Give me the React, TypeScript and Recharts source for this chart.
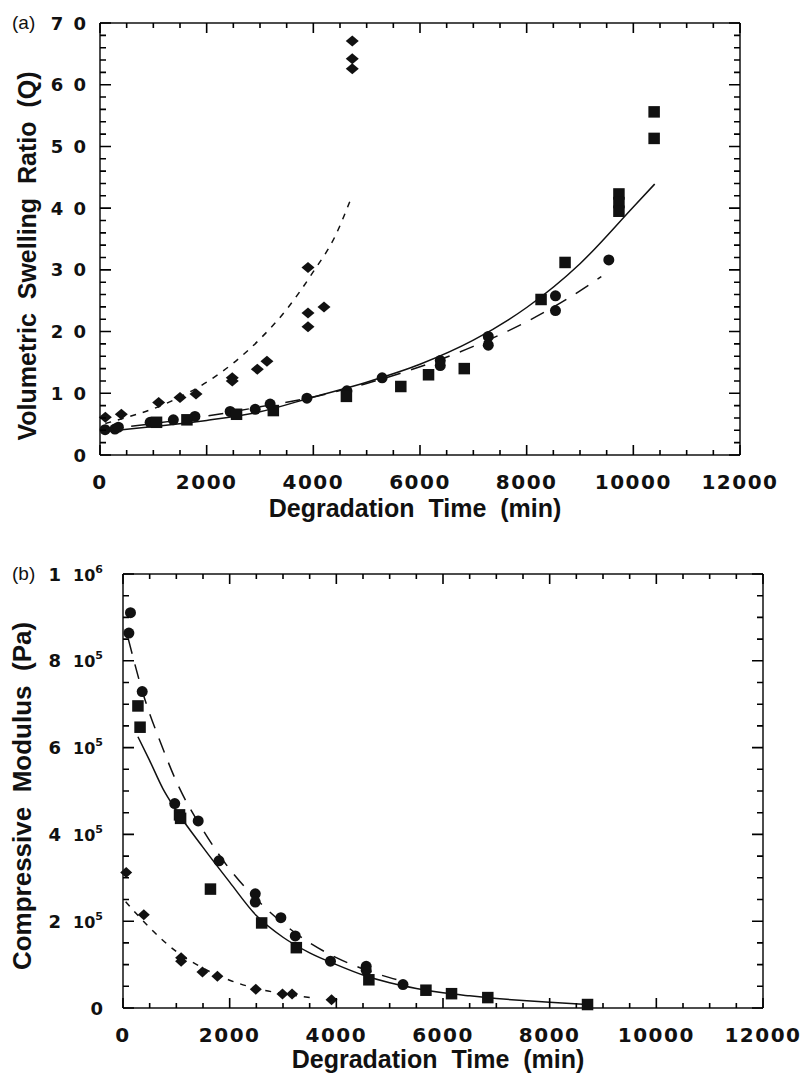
import { ComposedChart, Line, Scatter, XAxis, YAxis } from "recharts";

const INK = "#111";
const NUM_FONT = "'DejaVu Sans', sans-serif";
const TITLE_FONT = "'Liberation Sans', Arial, sans-serif";

// ---- (a) volumetric swelling ratio Q vs degradation time (min) ----
const swellDiamondT = [100, 400, 1100, 1500, 1800, 2480, 2480, 2950, 3130, 3900, 3900, 3900, 4200, 4730, 4730, 4730];
const swellDiamondQ = [6.1, 6.6, 8.5, 9.3, 9.9, 12.5, 12.0, 13.9, 15.2, 30.4, 23.0, 20.8, 24.0, 67.1, 64.2, 62.6];

const swellCircleT = [95, 280, 345, 940, 1375, 1780, 2440, 2910, 3190, 3880, 4630, 5290, 6380, 6380, 7280, 7280, 8540, 8540, 9540];
const swellCircleQ = [4.1, 4.2, 4.5, 5.3, 5.7, 6.25, 7.05, 7.4, 8.25, 9.2, 10.4, 12.5, 15.3, 14.5, 19.2, 17.8, 25.8, 23.4, 31.6];

const swellSquareT = [1060, 1630, 2560, 3250, 4620, 5640, 6160, 6830, 8270, 8720, 9730, 9730, 9730, 10390, 10390];
const swellSquareQ = [5.3, 5.7, 6.6, 7.2, 9.5, 11.1, 13.0, 14.0, 25.2, 31.2, 42.3, 40.9, 39.5, 55.6, 51.3];

// fitted curves
const swellDiamondFitT = [100, 500, 1000, 1500, 2000, 2500, 3000, 3500, 4000, 4400, 4730];
const swellDiamondFitQ = [5.1, 6.1, 7.5, 9.4, 11.8, 14.9, 18.8, 23.6, 29.7, 35.3, 42.1];
const swellCircleFitT = [100, 1000, 2000, 3000, 4000, 5000, 6000, 7000, 8000, 9000, 9400];
const swellCircleFitQ = [4.2, 5.1, 6.3, 7.8, 9.4, 11.6, 14.3, 17.6, 21.6, 26.6, 28.9];
const swellSquareFitT = [100, 1000, 2000, 3000, 4000, 5000, 6000, 7000, 8000, 9000, 10000, 10400];
const swellSquareFitQ = [3.8, 4.6, 5.6, 7.0, 9.4, 11.8, 14.7, 18.6, 23.9, 31.0, 40.2, 43.9];

// ---- (b) compressive modulus (Pa) vs degradation time (min) ----
const modCircleT = [140, 110, 360, 970, 1410, 1800, 2480, 2480, 2960, 3230, 3890, 4560, 4560, 5250];
const modCircleP = [911000, 864000, 729000, 471000, 431000, 339000, 263000, 244000, 208000, 166000, 108000, 96000, 87000, 54000];

const modSquareT = [280, 320, 1060, 1080, 1640, 2600, 3250, 4610, 5680, 6160, 6840, 8710];
const modSquareP = [696000, 647000, 445000, 437000, 274000, 196000, 139000, 65000, 41000, 33000, 24000, 8000];

const modDiamondT = [60, 390, 1090, 1090, 1490, 1770, 2490, 2990, 3170, 3910];
const modDiamondP = [312000, 215000, 116000, 108000, 83000, 73000, 43000, 32000, 32000, 19000];

const modCircleFitT = [100, 400, 700, 1000, 1500, 2000, 2500, 3000, 3500, 4000, 4500, 5000, 5300];
const modCircleFitP = [850000, 715000, 613000, 522000, 410000, 320000, 251000, 195000, 150000, 116000, 90000, 70000, 60000];
const modSquareFitT = [280, 500, 750, 1000, 1500, 2000, 2500, 3000, 3500, 4000, 4500, 5000, 5500, 6000, 6500, 7000, 7500, 8000, 8700];
const modSquareFitP = [625000, 570000, 505000, 455000, 370000, 290000, 213000, 163000, 127000, 100000, 76000, 58000, 45000, 35000, 28000, 22000, 17000, 13000, 8000];
const modDiamondFitT = [50, 500, 1000, 1500, 2000, 2500, 3000, 3600];
const modDiamondFitP = [245000, 185000, 130000, 92000, 64000, 45000, 33000, 23000];

const timeTicks = Array.from({ length: 25 }, (_, i) => i * 500);
const swellTicks = Array.from({ length: 36 }, (_, i) => i * 2);
const modTicks = Array.from({ length: 21 }, (_, i) => i * 50000);

const pts = (ts: number[], vs: number[]) => ts.map((t, i) => ({ t, v: vs[i] }));

// plot boxes (page pixels); chart margins are derived from these
const LEFT_AXIS_W = 60;
const RIGHT_AXIS_W = 10;
const BOTTOM_AXIS_H = 40;
const TOP_AXIS_H = 10;
const boxA = { left: 100, right: 740, top: 23, bottom: 455, chartTop: 0, chartH: 535 };
const boxB = { left: 123, right: 763, top: 574, bottom: 1008, chartTop: 540, chartH: 540 };

const marginFor = (b: typeof boxA) => ({
  left: b.left - LEFT_AXIS_W,
  right: 805 - b.right - RIGHT_AXIS_W,
  top: b.top - b.chartTop - TOP_AXIS_H,
  bottom: b.chartTop + b.chartH - b.bottom - BOTTOM_AXIS_H,
});

// ---- markers ----
const circleShape = (r: number) => (p: any) => <circle cx={p.cx} cy={p.cy} r={r} fill={INK} />;
const squareShape = (s: number) => (p: any) => (
  <rect x={p.cx - s / 2} y={p.cy - s / 2} width={s} height={s} fill={INK} />
);
const diamondShape = (w: number, h: number) => (p: any) => (
  <polygon
    points={`${p.cx},${p.cy - h} ${p.cx + w},${p.cy} ${p.cx},${p.cy + h} ${p.cx - w},${p.cy}`}
    fill={INK}
  />
);

// ---- tick labels ----
const xLabel = (p: any) => {
  const v = p.payload.value;
  if (v % 2000 !== 0) return <g />;
  return (
    <text x={p.x} y={p.y + 34} textAnchor="middle" fontFamily={NUM_FONT} fontWeight="bold" fontSize={20} letterSpacing={1.5} fill={INK}>
      {v}
    </text>
  );
};

const swellLabel = (p: any) => {
  const v = p.payload.value;
  if (v % 10 !== 0) return <g />;
  return (
    <text x={p.x - 12} y={p.y + 6.5} textAnchor="end" fontFamily={NUM_FONT} fontWeight="bold" fontSize={18} letterSpacing={2} fill={INK}>
      {v === 0 ? "0" : String(v).split("").join(" ")}
    </text>
  );
};

const modLabel = (p: any) => {
  const v = p.payload.value;
  if (v % 200000 !== 0) return <g />;
  const exp = v >= 1000000 ? 6 : 5;
  const lead = v / Math.pow(10, exp);
  return (
    <text x={p.x - 20} y={p.y + 6.5} textAnchor="end" fontFamily={NUM_FONT} fontWeight="bold" fill={INK}>
      {v === 0 ? (
        <tspan fontSize={18}>0</tspan>
      ) : (
        <>
          <tspan fontSize={18}>{lead}</tspan>
          <tspan dx={12} fontSize={16}>10</tspan>
          <tspan dy={-8} fontSize={11}>{exp}</tspan>
        </>
      )}
    </text>
  );
};

// inward tick marks on all four sides of a plot box
function FrameTicks({ box, yMax, yTicks, yMajor }: { box: typeof boxA; yMax: number; yTicks: number[]; yMajor: number }) {
  const w = box.right - box.left;
  const h = box.bottom - box.top;
  const segs: string[] = [];
  timeTicks.forEach((t) => {
    const x = box.left + (t / 12000) * w;
    const len = t % 2000 === 0 ? 10 : 5;
    segs.push(`M${x},${box.bottom}v${-len}`, `M${x},${box.top}v${len}`);
  });
  yTicks.forEach((v) => {
    const y = box.bottom - (v / yMax) * h;
    const len = v % yMajor === 0 ? 11 : 6;
    segs.push(`M${box.left},${y}h${len}`, `M${box.right},${y}h${-len}`);
  });
  return <path d={segs.join("")} stroke="#000" strokeWidth={1.6} fill="none" />;
}

const axisLine = { stroke: INK, strokeWidth: 1.5 };
const axisCommon = {
  type: "number" as const,
  interval: 0 as const,
  tickSize: 0,
  tickMargin: 0,
  tickLine: false,
  axisLine,
  dataKey: "t",
};

export default function App() {
  return (
    <div style={{ position: "absolute", left: 0, top: 0, width: 805, height: 1075 }}>
      <div style={{ position: "absolute", left: 0, top: boxA.chartTop }}>
        <ComposedChart width={805} height={boxA.chartH} margin={marginFor(boxA)}>
          <XAxis {...axisCommon} domain={[0, 12000]} ticks={timeTicks} height={BOTTOM_AXIS_H} tick={xLabel} />
          <XAxis {...axisCommon} xAxisId="top" orientation="top" domain={[0, 12000]} ticks={timeTicks} height={TOP_AXIS_H} tick={false} />
          <YAxis {...axisCommon} dataKey="v" domain={[0, 70]} ticks={swellTicks} width={LEFT_AXIS_W} tick={swellLabel} />
          <YAxis {...axisCommon} dataKey="v" yAxisId="right" orientation="right" domain={[0, 70]} ticks={swellTicks} width={RIGHT_AXIS_W} tick={false} />

          <Line data={pts(swellDiamondFitT, swellDiamondFitQ)} dataKey="v" type="monotone" dot={false}
            stroke={INK} strokeWidth={1.5} strokeDasharray="6 7" isAnimationActive={false} />
          <Line data={pts(swellCircleFitT, swellCircleFitQ)} dataKey="v" type="monotone" dot={false}
            stroke={INK} strokeWidth={1.5} strokeDasharray="15 11" isAnimationActive={false} />
          <Line data={pts(swellSquareFitT, swellSquareFitQ)} dataKey="v" type="monotone" dot={false}
            stroke={INK} strokeWidth={1.5} isAnimationActive={false} />

          <Scatter data={pts(swellDiamondT, swellDiamondQ)} shape={diamondShape(6.5, 5.5)} isAnimationActive={false} />
          <Scatter data={pts(swellCircleT, swellCircleQ)} shape={circleShape(5.5)} isAnimationActive={false} />
          {/* same domains on the top/right pair, so the squares can live there */}
          <Scatter xAxisId="top" yAxisId="right" data={pts(swellSquareT, swellSquareQ)} shape={squareShape(11.5)} isAnimationActive={false} />
        </ComposedChart>
      </div>

      <div style={{ position: "absolute", left: 0, top: boxB.chartTop }}>
        <ComposedChart width={805} height={boxB.chartH} margin={marginFor(boxB)}>
          <XAxis {...axisCommon} domain={[0, 12000]} ticks={timeTicks} height={BOTTOM_AXIS_H} tick={xLabel} />
          <XAxis {...axisCommon} xAxisId="top" orientation="top" domain={[0, 12000]} ticks={timeTicks} height={TOP_AXIS_H} tick={false} />
          <YAxis {...axisCommon} dataKey="v" domain={[0, 1000000]} ticks={modTicks} width={LEFT_AXIS_W} tick={modLabel} />
          <YAxis {...axisCommon} dataKey="v" yAxisId="right" orientation="right" domain={[0, 1000000]} ticks={modTicks} width={RIGHT_AXIS_W} tick={false} />

          <Line data={pts(modDiamondFitT, modDiamondFitP)} dataKey="v" type="monotone" dot={false}
            stroke={INK} strokeWidth={1.5} strokeDasharray="6 7" isAnimationActive={false} />
          <Line data={pts(modCircleFitT, modCircleFitP)} dataKey="v" type="monotone" dot={false}
            stroke={INK} strokeWidth={1.5} strokeDasharray="15 11" isAnimationActive={false} />
          <Line data={pts(modSquareFitT, modSquareFitP)} dataKey="v" type="monotone" dot={false}
            stroke={INK} strokeWidth={1.5} isAnimationActive={false} />

          <Scatter data={pts(modDiamondT, modDiamondP)} shape={diamondShape(6, 5.5)} isAnimationActive={false} />
          <Scatter data={pts(modCircleT, modCircleP)} shape={circleShape(5.5)} isAnimationActive={false} />
          <Scatter xAxisId="top" yAxisId="right" data={pts(modSquareT, modSquareP)} shape={squareShape(11.5)} isAnimationActive={false} />
        </ComposedChart>
      </div>

      {/* frame ticks, panel letters and axis titles */}
      <svg width={805} height={1075} style={{ position: "absolute", left: 0, top: 0, pointerEvents: "none" }}>
        <FrameTicks box={boxA} yMax={70} yTicks={swellTicks} yMajor={10} />
        <FrameTicks box={boxB} yMax={1000000} yTicks={modTicks} yMajor={200000} />
        <g fontFamily={TITLE_FONT} fill={INK}>
          <text x={12} y={29} fontSize={19}>(a)</text>
          <text x={12} y={580} fontSize={19}>(b)</text>
          <g fontWeight="bold" fontSize={25}>
            <text x={415} y={517} textAnchor="middle" xmlSpace="preserve">Degradation  Time  (min)</text>
            <text x={438} y={1068} textAnchor="middle" xmlSpace="preserve">Degradation  Time  (min)</text>
            <text transform="translate(36 256) rotate(-90)" textAnchor="middle" xmlSpace="preserve">Volumetric  Swelling  Ratio  (Q)</text>
            <text transform="translate(31 796) rotate(-90)" textAnchor="middle" fontSize={26} xmlSpace="preserve">Compressive  Modulus  (Pa)</text>
          </g>
        </g>
      </svg>
    </div>
  );
}
